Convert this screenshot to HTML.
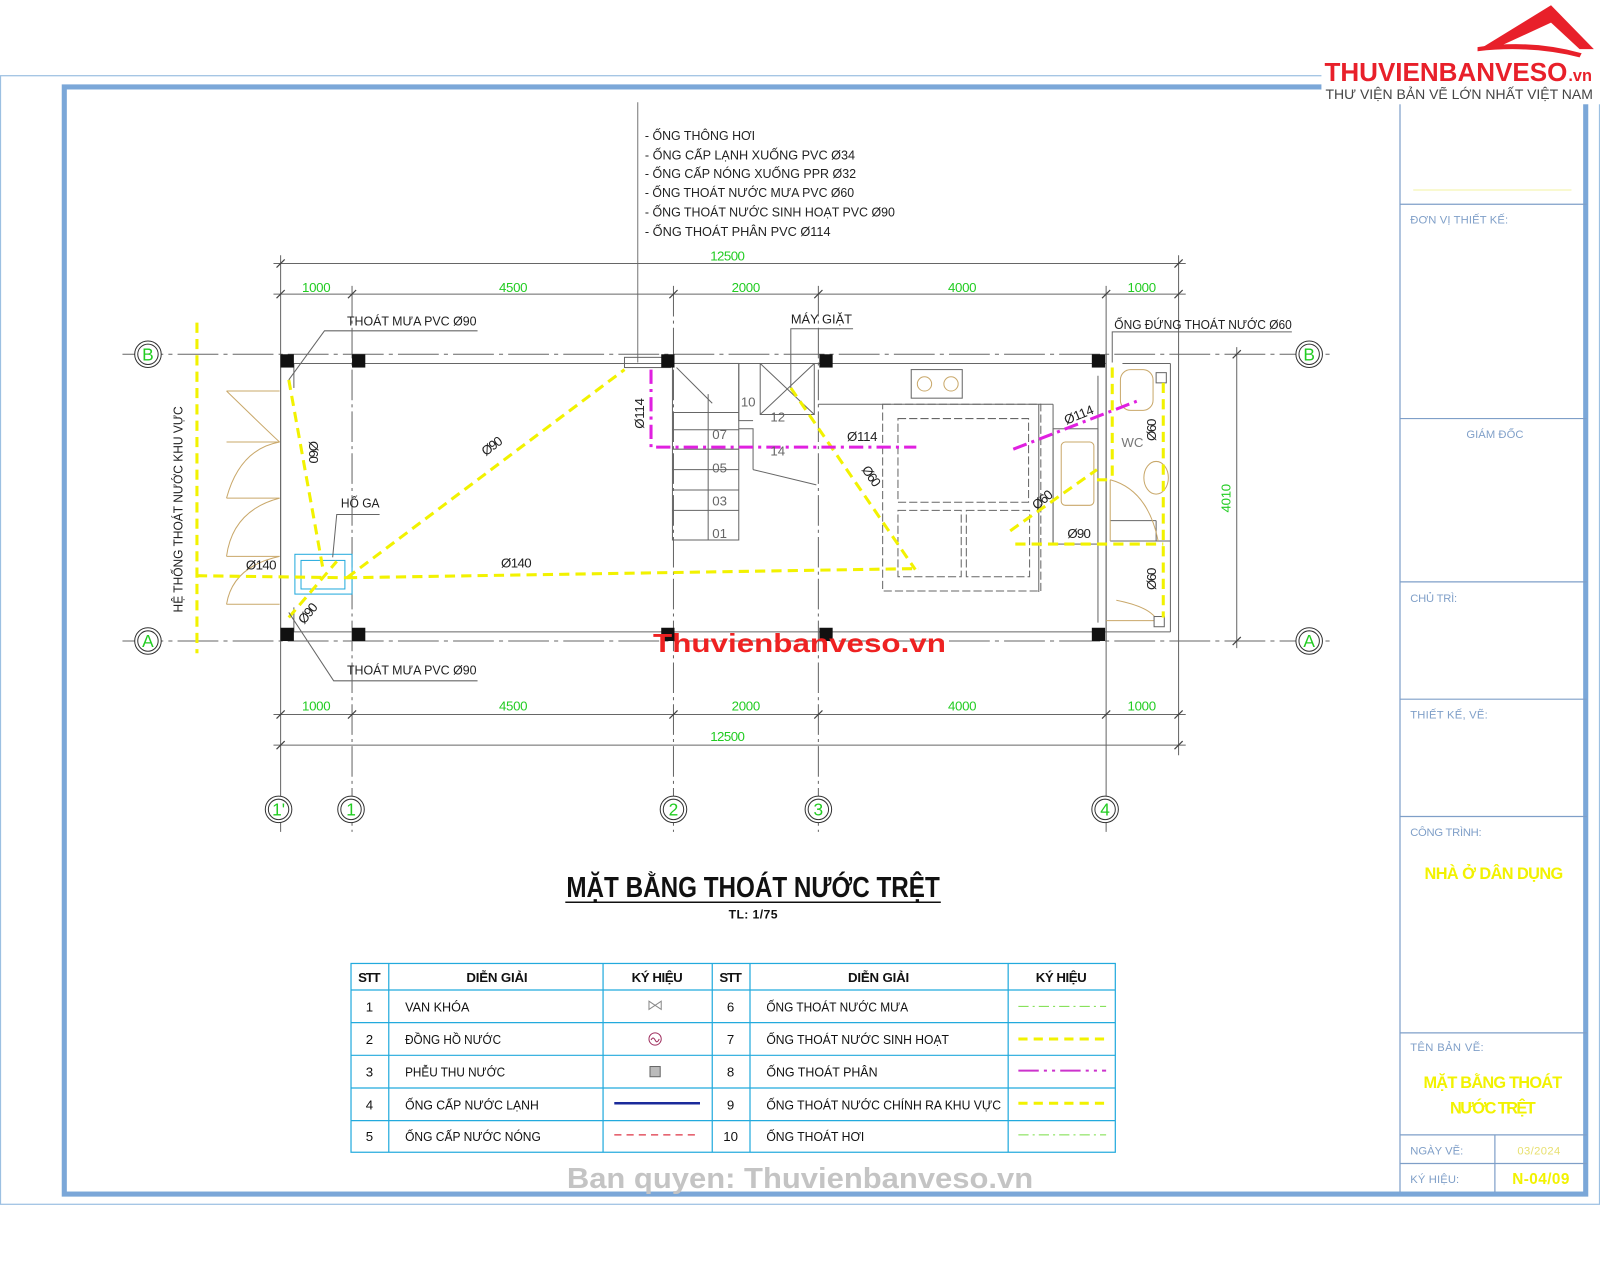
<!DOCTYPE html>
<html><head><meta charset="utf-8"><style>
html,body{margin:0;padding:0;background:#fff;}
svg{display:block}
text{font-family:"Liberation Sans Narrow","Liberation Sans",sans-serif;}
</style></head><body>
<svg width="1600" height="1280" viewBox="0 0 1568 1254" xmlns="http://www.w3.org/2000/svg">
<rect width="1568" height="1254" fill="#fff"/>
<rect x="0.5" y="74" width="1567" height="1106" fill="none" stroke="#9cc0e2" stroke-width="1.2"/>
<rect x="63" y="85" width="1491" height="1085" fill="none" stroke="#7ba7d8" stroke-width="5"/>
<g stroke="#7f9fc8" stroke-width="1.2" fill="none">
<line x1="1372" y1="100" x2="1372" y2="1168"/>
<line x1="1372" y1="200" x2="1555" y2="200"/>
<line x1="1372" y1="410" x2="1555" y2="410"/>
<line x1="1372" y1="570" x2="1555" y2="570"/>
<line x1="1372" y1="685" x2="1555" y2="685"/>
<line x1="1372" y1="800" x2="1555" y2="800"/>
<line x1="1372" y1="1012" x2="1555" y2="1012"/>
<line x1="1372" y1="1112" x2="1555" y2="1112"/>
<line x1="1372" y1="1140" x2="1555" y2="1140"/>
<line x1="1465" y1="1112" x2="1465" y2="1168"/>
</g>
<line x1="1385" y1="186" x2="1540" y2="186" stroke="#f3f3a0" stroke-width="1"/>
<g fill="#7f9fc8" font-size="11">
<text x="1382" y="219" textLength="96">ĐƠN VỊ THIẾT KẾ:</text>
<text x="1437" y="429" textLength="56">GIÁM ĐỐC</text>
<text x="1382" y="590" textLength="46">CHỦ TRÌ:</text>
<text x="1382" y="704" textLength="76">THIẾT KẾ, VẼ:</text>
<text x="1382" y="819" textLength="70">CÔNG TRÌNH:</text>
<text x="1382" y="1030" textLength="72">TÊN BẢN VẼ:</text>
<text x="1382" y="1131" textLength="52">NGÀY VẼ:</text>
<text x="1382" y="1159" textLength="48">KÝ HIỆU:</text>
</g>
<g fill="#f2f200" font-weight="bold" text-anchor="middle">
<text x="1464" y="861" font-size="16" textLength="136">NHÀ Ở DÂN DỤNG</text>
<text x="1463" y="1066" font-size="16" textLength="136">MẶT BẰNG THOÁT</text>
<text x="1463" y="1091" font-size="16" textLength="84">NƯỚC TRỆT</text>
<text x="1508" y="1131" font-size="11" font-weight="normal" fill="#e8e070" textLength="42">03/2024</text>
<text x="1510" y="1160" font-size="15" textLength="56">N-04/09</text>
</g>
<rect x="1295" y="40" width="273" height="62" fill="#fff"/>
<path d="M1450 48 L1520 5 L1562 48 L1548 48 L1520 22 L1470 45 Z" fill="#e8202a"/>
<path d="M1448 46 Q1500 38 1550 52 L1548 56 Q1500 44 1448 50Z" fill="#e8202a"/>
<text x="1298" y="79" font-family="Liberation Sans" font-weight="bold" font-size="25" fill="#e8202a" textLength="238" lengthAdjust="spacingAndGlyphs">THUVIENBANVESO</text>
<text x="1537" y="79" font-family="Liberation Sans" font-weight="bold" font-size="16" fill="#e8202a">.vn</text>
<text x="1299" y="97" font-family="Liberation Sans" font-size="14" fill="#444" textLength="262" lengthAdjust="spacingAndGlyphs">THƯ VIỆN BẢN VẼ LỚN NHẤT VIỆT NAM</text>

<line x1="625" y1="100" x2="625" y2="355" stroke="#777" stroke-width="1"/>
<g font-size="13" fill="#222" lengthAdjust="spacingAndGlyphs">
<text x="632" y="137" textLength="108" lengthAdjust="spacingAndGlyphs">- ỐNG THÔNG HƠI</text>
<text x="632" y="156" textLength="206" lengthAdjust="spacingAndGlyphs">- ỐNG CẤP LẠNH XUỐNG PVC Ø34</text>
<text x="632" y="174" textLength="207" lengthAdjust="spacingAndGlyphs">- ỐNG CẤP NÓNG XUỐNG PPR Ø32</text>
<text x="632" y="193" textLength="205" lengthAdjust="spacingAndGlyphs">- ỐNG THOÁT NƯỚC MƯA PVC Ø60</text>
<text x="632" y="212" textLength="245" lengthAdjust="spacingAndGlyphs">- ỐNG THOÁT NƯỚC SINH HOẠT PVC Ø90</text>
<text x="632" y="231" textLength="182" lengthAdjust="spacingAndGlyphs">- ỐNG THOÁT PHÂN PVC Ø114</text>
</g>

<g stroke="#666" stroke-width="1">
<line x1="275" y1="250" x2="275" y2="815"/>
<line x1="345" y1="280" x2="345" y2="815" stroke-dasharray="30 4 3 4"/>
<line x1="660" y1="280" x2="660" y2="815" stroke-dasharray="30 4 3 4"/>
<line x1="802" y1="280" x2="802" y2="815" stroke-dasharray="30 4 3 4"/>
<line x1="1084" y1="280" x2="1084" y2="815"/>
<line x1="1155" y1="250" x2="1155" y2="740"/>
<line x1="120" y1="347" x2="1305" y2="347" stroke-dasharray="40 5 4 5"/>
<line x1="120" y1="628" x2="1305" y2="628" stroke-dasharray="40 5 4 5"/>
<line x1="268" y1="258" x2="1162" y2="258"/>
<line x1="268" y1="288" x2="1162" y2="288"/>
<line x1="268" y1="700" x2="1162" y2="700"/>
<line x1="268" y1="730" x2="1162" y2="730"/>
<line x1="1212" y1="340" x2="1212" y2="635"/>
</g>
<g stroke="#444" stroke-width="1.2">
<path d="M271 262l8-8M1151 262l8-8M271 292l8-8M341 292l8-8M656 292l8-8M798 292l8-8M1080 292l8-8M1151 292l8-8M271 704l8-8M341 704l8-8M656 704l8-8M798 704l8-8M1080 704l8-8M1151 704l8-8M271 734l8-8M1151 734l8-8M1208 351l8-8M1208 632l8-8"/>
</g>
<g fill="#22cc22" font-size="13" text-anchor="middle">
<text x="713" y="255" textLength="34">12500</text>
<text x="310" y="286" textLength="28">1000</text><text x="503" y="286" textLength="28">4500</text><text x="731" y="286" textLength="28">2000</text><text x="943" y="286" textLength="28">4000</text><text x="1119" y="286" textLength="28">1000</text>
<text x="310" y="696" textLength="28">1000</text><text x="503" y="696" textLength="28">4500</text><text x="731" y="696" textLength="28">2000</text><text x="943" y="696" textLength="28">4000</text><text x="1119" y="696" textLength="28">1000</text>
<text x="713" y="726" textLength="34">12500</text>
<text x="0" y="0" transform="translate(1206,488) rotate(-90)" textLength="28">4010</text>
</g>
<g fill="#fff" stroke="#333" stroke-width="1">
<circle cx="145" cy="347" r="13"/><circle cx="145" cy="347" r="10"/>
<circle cx="145" cy="628" r="13"/><circle cx="145" cy="628" r="10"/>
<circle cx="1283" cy="347" r="13"/><circle cx="1283" cy="347" r="10"/>
<circle cx="1283" cy="628" r="13"/><circle cx="1283" cy="628" r="10"/>
<circle cx="273" cy="793" r="13"/><circle cx="273" cy="793" r="10"/>
<circle cx="344" cy="793" r="13"/><circle cx="344" cy="793" r="10"/>
<circle cx="660" cy="793" r="13"/><circle cx="660" cy="793" r="10"/>
<circle cx="802" cy="793" r="13"/><circle cx="802" cy="793" r="10"/>
<circle cx="1083" cy="793" r="13"/><circle cx="1083" cy="793" r="10"/>
</g>
<g fill="#22cc22" font-size="17" text-anchor="middle">
<text x="145" y="353">B</text><text x="145" y="634">A</text>
<text x="1283" y="353">B</text><text x="1283" y="634">A</text>
<text x="273" y="799">1'</text><text x="344" y="799">1</text><text x="660" y="799">2</text><text x="802" y="799">3</text><text x="1083" y="799">4</text>
</g>

<g stroke="#666" stroke-width="1" fill="none">
<line x1="275" y1="356" x2="1084" y2="356"/>
<line x1="275" y1="619" x2="1084" y2="619"/>
<line x1="275" y1="347" x2="275" y2="628"/>
<line x1="288" y1="356" x2="288" y2="380"/>
<line x1="288" y1="595" x2="288" y2="619"/>
<line x1="1084" y1="347" x2="1084" y2="628"/>
<line x1="1100" y1="356" x2="1147" y2="356"/>
<line x1="1147" y1="356" x2="1147" y2="619"/>
<line x1="1084" y1="619" x2="1147" y2="619"/>
<line x1="1076" y1="368" x2="1076" y2="610"/>
<line x1="1088" y1="530" x2="1147" y2="530"/>
<line x1="1088" y1="510" x2="1133" y2="510"/>
<line x1="1133" y1="510" x2="1133" y2="530"/>
<rect x="612" y="350" width="45" height="10"/>
<rect x="659" y="356" width="65" height="173"/>
<line x1="694" y1="386" x2="694" y2="529"/>
<path d="M659 404h65M659 421h65M659 440h65M659 460h65M659 480h65M659 500h65"/>
<path d="M724 356v56h14M745 356h53v50h-53z M745 356l53 50M798 356l-53 50"/>
<path d="M724 420h14v40M738 460l62 15"/>
<path d="M663 360l35 35"/>
<rect x="893" y="362" width="50" height="28"/>
<line x1="802" y1="396" x2="1032" y2="396"/>
<line x1="1018" y1="396" x2="1018" y2="580"/>
<line x1="1032" y1="396" x2="1032" y2="533"/>
<rect x="865" y="396" width="155" height="183" stroke-dasharray="8 3"/>
<rect x="880" y="410" width="128" height="82" stroke-dasharray="8 3"/>
<rect x="880" y="500" width="62" height="65" stroke-dasharray="8 3"/>
<rect x="947" y="500" width="62" height="65" stroke-dasharray="8 3"/>
<rect x="1032" y="420" width="44" height="113"/>
<rect x="289" y="543" width="56" height="39" stroke="#22aadd"/>
<rect x="295" y="549" width="43" height="28" stroke="#22aadd"/>
</g>
<g stroke="#c9a86a" stroke-width="1" fill="none">
<path d="M222 383h52M222 433h52M222 488h52M222 545h52M222 592h52"/>
<path d="M222 383 Q260 420 274 433M222 488 Q235 440 274 433M222 545 Q228 500 274 488M222 592 Q228 555 274 545"/>
<path d="M1088 470v60 M1088 470 Q1125 480 1135 530"/>
<path d="M1084 608h52 M1094 588 Q1130 595 1135 610"/>
<rect x="1040" y="433" width="32" height="62" rx="4"/>
<rect x="1098" y="362" width="32" height="40" rx="10"/>
<ellipse cx="1133" cy="468" rx="12" ry="16"/>
<circle cx="906" cy="376" r="7"/><circle cx="932" cy="376" r="7"/>
</g>
<g fill="#111">
<rect x="275" y="347" width="13" height="13"/><rect x="345" y="347" width="13" height="13"/>
<rect x="648" y="347" width="13" height="13"/><rect x="803" y="347" width="13" height="13"/>
<rect x="1070" y="347" width="13" height="13"/>
<rect x="275" y="615" width="13" height="13"/><rect x="345" y="615" width="13" height="13"/>
<rect x="648" y="615" width="13" height="13"/><rect x="803" y="615" width="13" height="13"/>
<rect x="1070" y="615" width="13" height="13"/>
</g>
<g fill="#fff" stroke="#666"><rect x="1133" y="365" width="10" height="10"/><rect x="1131" y="604" width="10" height="10"/></g>

<g stroke="#f2f200" stroke-width="3" fill="none" stroke-dasharray="10 6">
<line x1="193" y1="316" x2="193" y2="640"/>
<line x1="193" y1="564" x2="340" y2="566"/>
<line x1="340" y1="566" x2="900" y2="557"/>
<line x1="283" y1="372" x2="317" y2="560"/>
<line x1="340" y1="566" x2="612" y2="362"/>
<line x1="283" y1="605" x2="330" y2="550"/>
<line x1="775" y1="380" x2="897" y2="558"/>
<line x1="990" y1="520" x2="1075" y2="460"/>
<line x1="1090" y1="360" x2="1090" y2="470"/>
<line x1="1075" y1="470" x2="1090" y2="470"/>
<line x1="995" y1="533" x2="1140" y2="533"/>
<line x1="1140" y1="375" x2="1140" y2="605"/>
</g>
<g stroke="#e020e0" stroke-width="3" fill="none" stroke-dasharray="14 5 3 5">
<polyline points="638,362 638,438 898,438"/>
<line x1="993" y1="440" x2="1114" y2="393"/>
</g>
<g stroke="#666" stroke-width="1" fill="none">
<polyline points="283,372 318,324 468,324"/>
<polyline points="283,600 327,667 468,667"/>
<polyline points="326,546 330,504 372,504"/>
<polyline points="775,380 775,322 836,322"/>
<polyline points="1090,355 1090,325 1266,325"/>
</g>
<g font-size="13" fill="#222">
<text x="340" y="319" textLength="127" lengthAdjust="spacingAndGlyphs">THOÁT MƯA PVC Ø90</text>
<text x="340" y="661" textLength="127" lengthAdjust="spacingAndGlyphs">THOÁT MƯA PVC Ø90</text>
<text x="334" y="497" textLength="38" lengthAdjust="spacingAndGlyphs">HỐ GA</text>
<text x="775" y="317" textLength="60" lengthAdjust="spacingAndGlyphs">MÁY GIẶT</text>
<text x="1092" y="322" textLength="174" lengthAdjust="spacingAndGlyphs">ỐNG ĐỨNG THOÁT NƯỚC Ø60</text>
<text x="241" y="558" textLength="30">Ø140</text>
<text x="491" y="556" textLength="30">Ø140</text>
<text x="830" y="432" textLength="30">Ø114</text>
<text x="1046" y="527" textLength="23">Ø90</text>
<text x="1099" y="438" fill="#777">WC</text>
<text x="726" y="398" fill="#666">10</text><text x="755" y="413" fill="#666">12</text>
<text x="698" y="430" fill="#666">07</text><text x="755" y="446" fill="#666">14</text>
<text x="698" y="463" fill="#666">05</text><text x="698" y="495" fill="#666">03</text><text x="698" y="527" fill="#666">01</text>
<text transform="translate(179,600) rotate(-90)" font-size="13" textLength="202" lengthAdjust="spacingAndGlyphs">HỆ THỐNG THOÁT NƯỚC KHU VỰC</text>
<text transform="translate(303,432) rotate(90)" textLength="22">Ø60</text>
<text transform="translate(476,447) rotate(-37)" textLength="22">Ø90</text>
<text transform="translate(298,612) rotate(-50)" textLength="22">Ø90</text>
<text transform="translate(631,420) rotate(-90)" textLength="30">Ø114</text>
<text transform="translate(844,460) rotate(55)" textLength="22">Ø60</text>
<text transform="translate(1016,500) rotate(-40)" textLength="22">Ø60</text>
<text transform="translate(1045,416) rotate(-22)" textLength="30">Ø114</text>
<text transform="translate(1133,432) rotate(-90)" textLength="22">Ø60</text>
<text transform="translate(1133,578) rotate(-90)" textLength="22">Ø60</text>
</g>
<text x="640" y="639" font-family="Liberation Sans" font-weight="bold" font-size="25" fill="#ee2222" textLength="287" lengthAdjust="spacingAndGlyphs">Thuvienbanveso.vn</text>

<text x="738" y="879" text-anchor="middle" font-size="28" font-weight="bold" fill="#111" textLength="366" lengthAdjust="spacingAndGlyphs">MẶT BẰNG THOÁT NƯỚC TRỆT</text>
<line x1="554" y1="884" x2="922" y2="884" stroke="#111" stroke-width="1.5"/>
<text x="738" y="900" text-anchor="middle" font-size="12" font-weight="bold" fill="#111" textLength="48">TL: 1/75</text>

<g stroke="#22aadd" stroke-width="1.2" fill="none">
<rect x="344" y="944" width="749" height="185"/>
<path d="M381 944v185M591 944v185M698 944v185M735 944v185M988 944v185"/>
<path d="M344 970h749M344 1002h749M344 1034h749M344 1066h749M344 1098h749"/>
</g>
<g font-size="13" fill="#111" font-weight="bold" text-anchor="middle">
<text x="362" y="962" textLength="22">STT</text><text x="487" y="962" textLength="60">DIỄN GIẢI</text><text x="644" y="962" textLength="50">KÝ HIỆU</text>
<text x="716" y="962" textLength="22">STT</text><text x="861" y="962" textLength="60">DIỄN GIẢI</text><text x="1040" y="962" textLength="50">KÝ HIỆU</text>
</g>
<g font-size="13" fill="#111">
<g text-anchor="middle"><text x="362" y="991">1</text><text x="362" y="1023">2</text><text x="362" y="1055">3</text><text x="362" y="1087">4</text><text x="362" y="1118">5</text>
<text x="716" y="991">6</text><text x="716" y="1023">7</text><text x="716" y="1055">8</text><text x="716" y="1087">9</text><text x="716" y="1118">10</text></g>
<text x="397" y="991" textLength="63" lengthAdjust="spacingAndGlyphs">VAN KHÓA</text>
<text x="397" y="1023" textLength="94" lengthAdjust="spacingAndGlyphs">ĐỒNG HỒ NƯỚC</text>
<text x="397" y="1055" textLength="98" lengthAdjust="spacingAndGlyphs">PHỄU THU NƯỚC</text>
<text x="397" y="1087" textLength="131" lengthAdjust="spacingAndGlyphs">ỐNG CẤP NƯỚC LẠNH</text>
<text x="397" y="1118" textLength="133" lengthAdjust="spacingAndGlyphs">ỐNG CẤP NƯỚC NÓNG</text>
<text x="751" y="991" textLength="139" lengthAdjust="spacingAndGlyphs">ỐNG THOÁT NƯỚC MƯA</text>
<text x="751" y="1023" textLength="179" lengthAdjust="spacingAndGlyphs">ỐNG THOÁT NƯỚC SINH HOẠT</text>
<text x="751" y="1055" textLength="109" lengthAdjust="spacingAndGlyphs">ỐNG THOÁT PHÂN</text>
<text x="751" y="1087" textLength="230" lengthAdjust="spacingAndGlyphs">ỐNG THOÁT NƯỚC CHÍNH RA KHU VỰC</text>
<text x="751" y="1118" textLength="96" lengthAdjust="spacingAndGlyphs">ỐNG THOÁT HƠI</text>
</g>
<path d="M636 981l12 8v-8l-12 8z" stroke="#888" fill="none"/>
<circle cx="642" cy="1018" r="6" stroke="#a03060" fill="none"/>
<path d="M638 1019q2-4 4 0t4-1" stroke="#a03060" fill="none"/>
<rect x="637" y="1045" width="10" height="10" fill="#bbb" stroke="#666"/>
<line x1="602" y1="1081" x2="686" y2="1081" stroke="#1a2a9a" stroke-width="2.5"/>
<line x1="602" y1="1112" x2="686" y2="1112" stroke="#dd3344" stroke-width="1.2" stroke-dasharray="7 5"/>
<line x1="998" y1="986" x2="1084" y2="986" stroke="#77dd44" stroke-width="1" stroke-dasharray="10 4 2 4"/>
<line x1="998" y1="1018" x2="1084" y2="1018" stroke="#f2f200" stroke-width="3" stroke-dasharray="9 6"/>
<line x1="998" y1="1049" x2="1084" y2="1049" stroke="#cc33cc" stroke-width="2" stroke-dasharray="20 5 3 5 3 5"/>
<line x1="998" y1="1081" x2="1084" y2="1081" stroke="#f2f200" stroke-width="3" stroke-dasharray="9 6"/>
<line x1="998" y1="1112" x2="1084" y2="1112" stroke="#77dd44" stroke-width="1" stroke-dasharray="10 4 2 4"/>

<text x="784" y="1164" text-anchor="middle" font-family="Liberation Sans" font-weight="bold" font-size="28" fill="#c4c4c4" textLength="457" lengthAdjust="spacingAndGlyphs">Ban quyen: Thuvienbanveso.vn</text>
</svg>
</body></html>
